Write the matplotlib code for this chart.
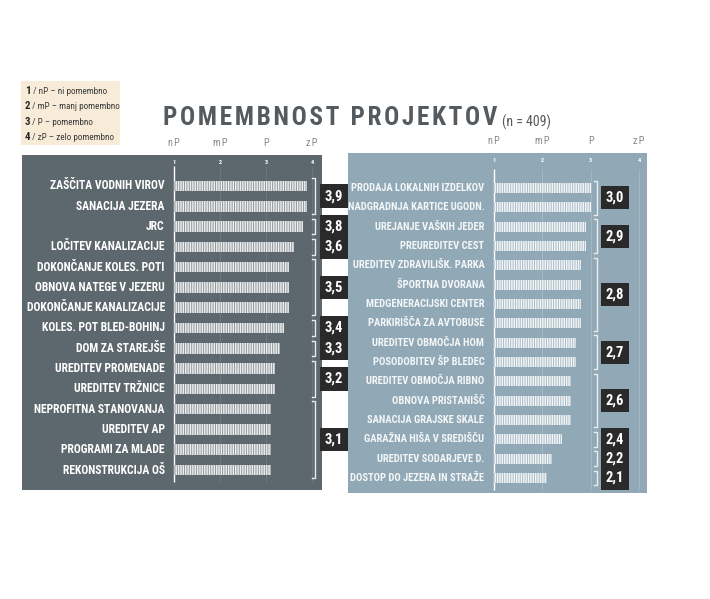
import itertools
import matplotlib.pyplot as plt
from matplotlib import font_manager

# data
left_labels = ['ZAŠČITA VODNIH VIROV', 'SANACIJA JEZERA', 'JRC', 'LOČITEV KANALIZACIJE',
               'DOKONČANJE KOLES. POTI', 'OBNOVA NATEGE V JEZERU', 'DOKONČANJE KANALIZACIJE',
               'KOLES. POT BLED-BOHINJ', 'DOM ZA STAREJŠE', 'UREDITEV PROMENADE',
               'UREDITEV TRŽNICE', 'NEPROFITNA STANOVANJA', 'UREDITEV AP',
               'PROGRAMI ZA MLADE', 'REKONSTRUKCIJA OŠ']
left_values = [3.9, 3.9, 3.8, 3.6, 3.5, 3.5, 3.5, 3.4, 3.3, 3.2, 3.2, 3.1, 3.1, 3.1, 3.1]

right_labels = ['PRODAJA LOKALNIH IZDELKOV', 'NADGRADNJA KARTICE UGODN.', 'UREJANJE VAŠKIH JEDER',
                'PREUREDITEV CEST', 'UREDITEV ZDRAVILIŠK. PARKA', 'ŠPORTNA DVORANA',
                'MEDGENERACIJSKI CENTER', 'PARKIRIŠČA ZA AVTOBUSE', 'UREDITEV OBMOČJA HOM',
                'POSODOBITEV ŠP BLEDEC', 'UREDITEV OBMOČJA RIBNO', 'OBNOVA PRISTANIŠČ',
                'SANACIJA GRAJSKE SKALE', 'GARAŽNA HIŠA V SREDIŠČU', 'UREDITEV SODARJEVE D.',
                'DOSTOP DO JEZERA IN STRAŽE']
right_values = [3.0, 3.0, 2.9, 2.9, 2.8, 2.8, 2.8, 2.8, 2.7, 2.7, 2.6, 2.6, 2.6, 2.4, 2.2, 2.1]

scale_ticks = [1, 2, 3, 4]
scale_names = ['nP', 'mP', 'P', 'zP']
legend_nums = ['1', '2', '3', '4']
legend_texts = [' / nP – ni pomembno', ' / mP – manj pomembno', ' / P – pomembno', ' / zP – zelo pomembno']
title = 'POMEMBNOST PROJEKTOV'
subtitle = '(n = 409)'

names = {f.name for f in font_manager.fontManager.ttflist}
narrow = next((n for n in ['Liberation Sans Narrow', 'Roboto Condensed', 'DejaVu Sans Condensed']
               if n in names), 'DejaVu Sans')
FONT = [narrow, 'DejaVu Sans']
plt.rcParams['hatch.linewidth'] = 0.7

W, H = 710, 599
fig = plt.figure(figsize=(W / 100, H / 100), dpi=100)
bg = fig.add_axes([0, 0, 1, 1])
bg.set_xlim(0, W)
bg.set_ylim(H, 0)
bg.axis('off')


def panel(rect, labels, values, xlim, ylim, col, bar_face, hatch_col, grid_col,
          label_col, label_size, bracket_x, box_x):
    ax = fig.add_axes([rect[0] / W, 1 - rect[3] / H, (rect[2] - rect[0]) / W, (rect[3] - rect[1]) / H])
    ax.set_facecolor(col)
    for s in ax.spines.values():
        s.set_visible(False)
    ax.set_xticks([])
    ax.set_yticks([])
    ax.set_xlim(*xlim)
    ax.set_ylim(*ylim)
    rows = list(range(len(values)))
    for t in scale_ticks:
        ax.vlines(t, len(values) - 1 + 0.6, -1.0, color='white' if t == 1 else grid_col,
                  lw=1.0 if t == 1 else 0.8, zorder=1)
        ax.text(t, 0.985, str(t), transform=ax.get_xaxis_transform(), ha='center', va='top',
                color='white', fontsize=4.5, fontweight='bold', family=FONT)
    for t, n in zip(scale_ticks, scale_names):
        ax.text(t, 1.02, '\u200a'.join(n), transform=ax.get_xaxis_transform(), ha='center',
                va='bottom', color='#8a8a8a', fontsize=7.5, family=FONT)
    base = scale_ticks[0]
    ax.barh(rows, [v - base for v in values], left=base, height=0.52, color=bar_face,
            edgecolor=hatch_col, hatch='|' * 7, lw=0, zorder=2)
    for r, lab in zip(rows, labels):
        ax.text(base - 0.2, r, lab, ha='right', va='center', color=label_col, fontsize=label_size,
                fontweight='bold', family=FONT)
    for key, grp in itertools.groupby(zip(rows, values), key=lambda p: p[1]):
        g = [p[0] for p in grp]
        top, bot = g[0] - 0.38, g[-1] + 0.38
        h = 0.07
        ax.plot([bracket_x - h, bracket_x, bracket_x, bracket_x - h], [top, top, bot, bot],
                color='#e8ecee', lw=1.0, solid_joinstyle='round', zorder=3)
        ax.text(box_x, (g[0] + g[-1]) / 2, f'{key:.1f}'.replace('.', ','), ha='center', va='center',
                color='white', fontsize=10.5, fontweight='bold', family=FONT, clip_on=False, zorder=4,
                bbox=dict(boxstyle='square,pad=0.33', fc='#2a2a2a', ec='none'))
    return ax


# left panel: px 22..322 x 155..490, value 1 at px 174, 46 px per unit, rows from 186 every 20.3 px
panel((22, 155, 322, 490), left_labels, left_values,
      (1 - 152 / 46, 1 + 148 / 46), (14 + 20 / 20.3, -31 / 20.3),
      '#5d676e', '#eeeeee', '#8f979c', '#6c767c', 'white', 8.4, 1 + 141 / 46, 1 + 160 / 46)

# right panel: px 348..647 x 153..493, value 1 at px 494, 48.3 px per unit, rows from 188 every 19.33 px
panel((348, 153, 647, 493), right_labels, right_values,
      (1 - 146 / 48.3, 1 + 153 / 48.3), (15 + 15 / 19.33, -35 / 19.33),
      '#91a9b6', '#f4f6f7', '#a9bcc6', '#a2b8c3', '#f4f7f8', 7.6, 1 + 103 / 48.3, 1 + 121 / 48.3)

# legend box
bg.add_patch(plt.Rectangle((21, 81), 99, 64, fc='#f8ecd9', ec='none'))
for i, (num, txt) in enumerate(zip(legend_nums, legend_texts)):
    y = 94 + i * 15.3
    t = bg.text(25, y, num, ha='left', va='baseline', fontsize=7.8, fontweight='bold',
                color='#2a2a2a', family=FONT)
    bg.annotate(txt, xy=(1, 0), xycoords=t, va='bottom', ha='left', fontsize=6.6,
                color='#3a3a3a', family=FONT)

tt = bg.text(163, 125, '\u200a'.join(title), ha='left', va='baseline',
             fontsize=18.2, fontweight='bold', color='#555a5e', family=FONT)
bg.annotate(subtitle, xy=(1, 0), xycoords=tt, xytext=(3, 0), textcoords='offset points',
            va='bottom', ha='left', fontsize=10, color='#555a5e', family=FONT)

fig.savefig('out.png', dpi=100)
